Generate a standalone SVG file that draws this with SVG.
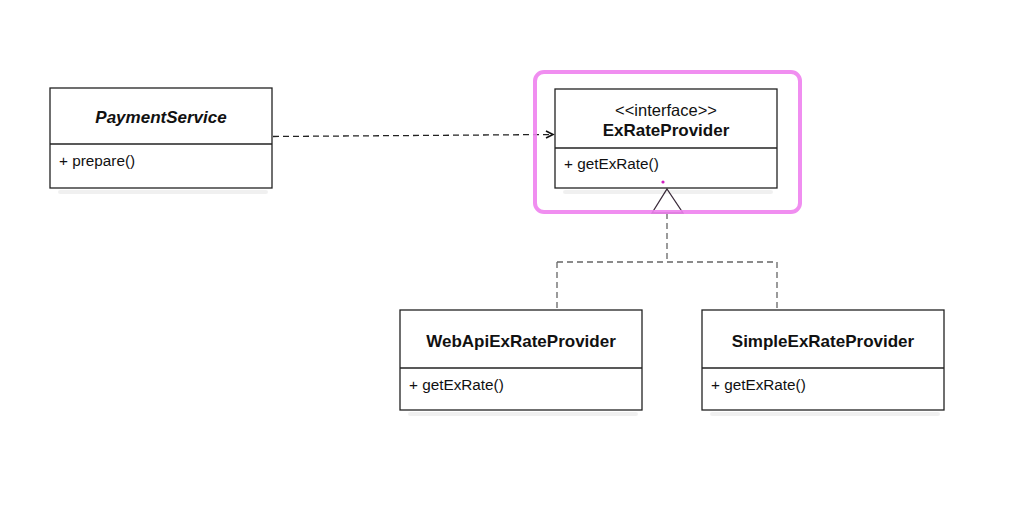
<svg xmlns="http://www.w3.org/2000/svg" width="1024" height="505" viewBox="0 0 1024 505">
<defs>
<style>
.box{fill:#fff;stroke:#222;stroke-width:1.3}
.div{stroke:#222;stroke-width:1.3}
.title{font-family:"Liberation Sans",Arial,sans-serif;font-size:17px;font-weight:bold;fill:#111;text-anchor:middle}
.meth{font-family:"Liberation Sans",Arial,sans-serif;font-size:15.3px;fill:#111}
.stereo{font-family:"Liberation Sans",Arial,sans-serif;font-size:16.5px;fill:#111;text-anchor:middle}
.dash{fill:none;stroke:#222;stroke-width:1.3;stroke-dasharray:6 4}
.dash2{fill:none;stroke:#666;stroke-width:1.3;stroke-dasharray:6 4}
.shadow{fill:#000;opacity:0.06}
</style>
<marker id="open" markerWidth="10" markerHeight="10" refX="8" refY="5" orient="auto" markerUnits="userSpaceOnUse">
<path d="M1,1.5 L8,5 L1,8.5" fill="none" stroke="#111" stroke-width="1.6"/>
</marker>
</defs>
<rect width="1024" height="505" fill="#fff"/>
<g id="connectors">
<path class="dash" d="M273,136.5 L553,134.5" marker-end="url(#open)"/>
<path class="dash2" d="M667,213 L667,262 M557,262 L777,262 M557,262 L557,310 M777,262 L777,310"/>
<polygon points="667,189 683,213 652,213" fill="#fff" stroke="#3a2a3a" stroke-width="1.3"/>
</g>
<g id="highlight">
<rect x="535" y="72" width="265" height="140" rx="9" fill="none" stroke="#ee82ee" stroke-width="4" opacity="0.9"/>
</g>
<g id="PaymentService">
<rect class="shadow" x="58" y="190" width="210" height="4" rx="2"/>
<rect class="box" x="50" y="88" width="222" height="100"/>
<line class="div" x1="50" y1="144" x2="272" y2="144"/>
<text class="title" x="161" y="123" font-style="italic">PaymentService</text>
<text class="meth" x="59" y="166">+ prepare()</text>
</g>
<g id="ExRateProvider">
<rect class="shadow" x="563" y="190" width="210" height="4" rx="2"/>
<rect class="box" x="555" y="89" width="222" height="99"/>
<line class="div" x1="555" y1="148" x2="777" y2="148"/>
<text class="stereo" x="666" y="116">&lt;&lt;interface&gt;&gt;</text>
<text class="title" x="666" y="136">ExRateProvider</text>
<text class="meth" x="564" y="169">+ getExRate()</text>
<circle cx="663" cy="182" r="1.6" fill="#d020c0"/>
</g>
<g id="WebApiExRateProvider">
<rect class="shadow" x="408" y="412" width="230" height="4" rx="2"/>
<rect class="box" x="400" y="310" width="242" height="100"/>
<line class="div" x1="400" y1="368" x2="642" y2="368"/>
<text class="title" x="521" y="347">WebApiExRateProvider</text>
<text class="meth" x="409" y="390">+ getExRate()</text>
</g>
<g id="SimpleExRateProvider">
<rect class="shadow" x="710" y="412" width="230" height="4" rx="2"/>
<rect class="box" x="702" y="310" width="242" height="100"/>
<line class="div" x1="702" y1="368" x2="944" y2="368"/>
<text class="title" x="823" y="347">SimpleExRateProvider</text>
<text class="meth" x="711" y="390">+ getExRate()</text>
</g>
</svg>
